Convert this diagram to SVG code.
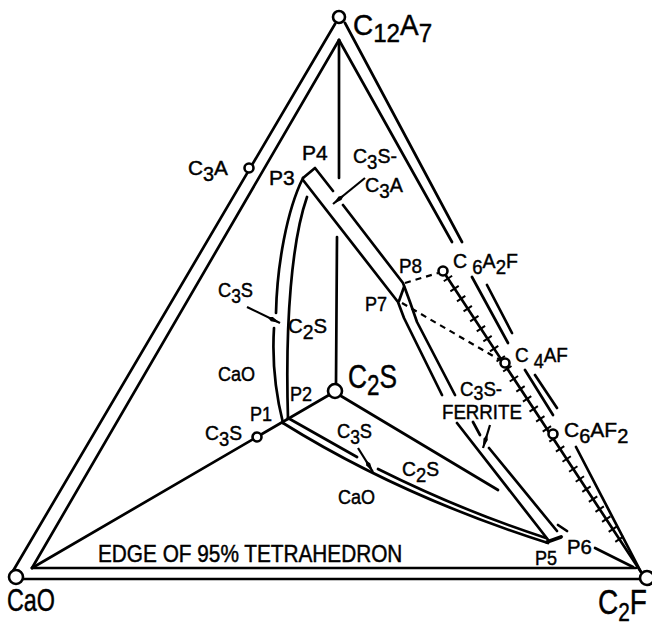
<svg xmlns="http://www.w3.org/2000/svg" width="652" height="627" viewBox="0 0 652 627">
<style>
.l{fill:none;stroke:#000;stroke-width:2.7;stroke-linecap:round;stroke-linejoin:round}
.d{fill:none;stroke:#000;stroke-width:2.2;stroke-dasharray:6 5}
.tk{fill:none;stroke:#000;stroke-width:10;stroke-dasharray:2 10}
.a{fill:none;stroke:#000;stroke-width:2.2;marker-end:url(#ah)}
.pt{fill:#fff;stroke:#000;stroke-width:2.6}
text{font-family:"Liberation Sans",Arial,sans-serif;fill:#000;stroke:#000;stroke-width:0.45}
.s{font-size:21px}
.u{font-size:20px}
</style>
<defs>
<marker id="ah" markerUnits="userSpaceOnUse" markerWidth="15" markerHeight="7" refX="14" refY="3.5" orient="auto">
<path d="M0,3.5 L5,1.2 L14,3.5 L5,5.8 z" fill="#000"/>
</marker>
</defs>
<g id="connectors">
<path class="l" d="M335,24 L13,571"/>
<path class="l" d="M339,40 L32,568"/>
<path class="l" d="M32,568 L636,568"/>
<path class="l" d="M23,579 L641,579"/>
<path class="l" d="M345,23 L462,242 M487,285 L512,333 M535,375 L557,408 M576,447 L641,572"/>
<path class="l" d="M339,40 L452,242 M472,277 L508,343 M525,370 L553,415"/>
<path class="l" d="M339,40 L339,178 M337,237 L336,384"/>
<path class="l" d="M32,568 L329,395"/>
<path class="l" d="M341,396 L498,490"/>
<path class="l" d="M283,423 Q400,496 548,543"/>
<path class="l" d="M288,418 L357,457 M378,469 Q460,510 546,538"/>
<path class="l" d="M303,178 C287,210 277,265 276,313 M274,328 C272,360 276,395 283,423"/>
<path class="l" d="M307,197 C292,240 285,320 288,419"/>
<path class="l" d="M303,178 L315,168 L333,191 M343,205 L403,283 L410,302 L417,322 L455,395 M473,422 L480,435 M489,448 L557,531 M558,525 L567,531"/>
<path class="l" d="M303,180 L398,302 L404,318 L442,395 M457,423 L549,541"/>
<path class="l" d="M404,287 L399,301"/>
<path class="l" style="stroke-width:3.8" d="M547,542 L561,537"/>
<path class="l" d="M595,548 L633,567"/>
<path class="d" d="M405,283 L438,273"/>
<path class="d" d="M402,303 L500,360"/>
<path class="l" d="M443,271 L641,572"/>
<path class="tk" d="M447.4,277.7 L620,540"/>
<path class="a" d="M365,178 L333,204"/>
<path class="a" d="M247,307 L280,323"/>
<path class="a" d="M358,448 L373,472"/>
<path class="a" d="M490,425 L483,448"/>
</g>
<g id="n-C12A7">
<circle class="pt" cx="339" cy="17" r="6"/>
<text transform="matrix(0.93 0 0 1 353 35)" font-size="30">C<tspan dy="7" font-size="26">12</tspan><tspan dy="-7">A</tspan><tspan dy="7" font-size="26">7</tspan></text>
</g>
<g id="n-CaO">
<circle class="pt" cx="16" cy="577" r="7"/>
<text transform="matrix(0.754 0 0 1 7 611)" font-size="31">CaO</text>
</g>
<g id="n-C2F">
<circle class="pt" cx="647" cy="578" r="7"/>
<text transform="matrix(0.8 0 0 1 598 614)" font-size="35">C<tspan dy="7" font-size="26">2</tspan><tspan dy="-7">F</tspan></text>
</g>
<g id="n-C2S">
<circle class="pt" cx="335" cy="391" r="7"/>
<text transform="matrix(0.773 0 0 1 348 388)" font-size="34">C<tspan dy="7" font-size="29">2</tspan><tspan dy="-7">S</tspan></text>
</g>
<g id="n-C3S">
<circle class="pt" cx="257" cy="437" r="4.5"/>
<text class="s" transform="matrix(0.92 0 0 1 205 440)">C<tspan class="u" dy="6">3</tspan><tspan dy="-6">S</tspan></text>
</g>
<g id="n-C3A">
<circle class="pt" cx="249" cy="168" r="4.5"/>
<text class="s" transform="matrix(0.99 0 0 1 188 175)">C<tspan class="u" dy="6">3</tspan><tspan dy="-6">A</tspan></text>
</g>
<g id="n-C6A2F">
<circle class="pt" cx="443" cy="271" r="4.5"/>
<text class="s" transform="matrix(0.93 0 0 1 453 268)">C<tspan class="u" dy="6"> 6</tspan><tspan dy="-6">A</tspan><tspan class="u" dy="6">2</tspan><tspan dy="-6">F</tspan></text>
</g>
<g id="n-C4AF">
<circle class="pt" cx="505" cy="363" r="4.5"/>
<text class="s" transform="matrix(0.9 0 0 1 515 362)">C<tspan class="u" dy="6"> 4</tspan><tspan dy="-6">AF</tspan></text>
</g>
<g id="n-C6AF2">
<circle class="pt" cx="553" cy="434" r="4.5"/>
<text class="s" transform="matrix(1 0 0 1 564 437)">C<tspan class="u" dy="6">6</tspan><tspan dy="-6">AF</tspan><tspan class="u" dy="6">2</tspan></text>
</g>
<g id="n-P1"><text class="s" transform="matrix(0.86 0 0 1 250 421)">P1</text></g>
<g id="n-P2"><text class="s" transform="matrix(0.86 0 0 1 290 401)">P2</text></g>
<g id="n-P3"><text class="s" transform="matrix(1 0 0 1 269 185)">P3</text></g>
<g id="n-P4"><text class="s" transform="matrix(1 0 0 1 302 160)">P4</text></g>
<g id="n-P5"><text class="s" transform="matrix(0.86 0 0 1 535 565)">P5</text></g>
<g id="n-P6"><text class="s" transform="matrix(0.97 0 0 1 567 554)">P6</text></g>
<g id="n-P7"><text class="s" transform="matrix(0.86 0 0 1 365 311)">P7</text></g>
<g id="n-P8"><text class="s" transform="matrix(0.9 0 0 1 399 273)">P8</text></g>
<g id="labels">
<text class="s" transform="matrix(0.93 0 0 1 353 163)">C<tspan class="u" dy="6">3</tspan><tspan dy="-6">S-</tspan></text>
<text class="s" transform="matrix(0.94 0 0 1 365 192)">C<tspan class="u" dy="6">3</tspan><tspan dy="-6">A</tspan></text>
<text class="s" transform="matrix(0.87 0 0 1 218 297)">C<tspan class="u" dy="6">3</tspan><tspan dy="-6">S</tspan></text>
<text class="s" transform="matrix(0.97 0 0 1 288 333)">C<tspan class="u" dy="6">2</tspan><tspan dy="-6">S</tspan></text>
<text class="s" transform="matrix(0.86 0 0 1 218 381)">CaO</text>
<text class="s" transform="matrix(0.89 0 0 1 460 396)">C<tspan class="u" dy="4">3</tspan><tspan dy="-4">S-</tspan></text>
<text class="s" transform="matrix(0.89 0 0 1 442 419)">FERRITE</text>
<text class="s" transform="matrix(0.87 0 0 1 337 438)">C<tspan class="u" dy="6">3</tspan><tspan dy="-6">S</tspan></text>
<text class="s" transform="matrix(0.92 0 0 1 402 476)">C<tspan class="u" dy="6">2</tspan><tspan dy="-6">S</tspan></text>
<text class="s" transform="matrix(0.86 0 0 1 338 504)">CaO</text>
<text transform="matrix(0.904 0 0 1 98 562)" font-size="23">EDGE OF 95% TETRAHEDRON</text>
</g>
</svg>
